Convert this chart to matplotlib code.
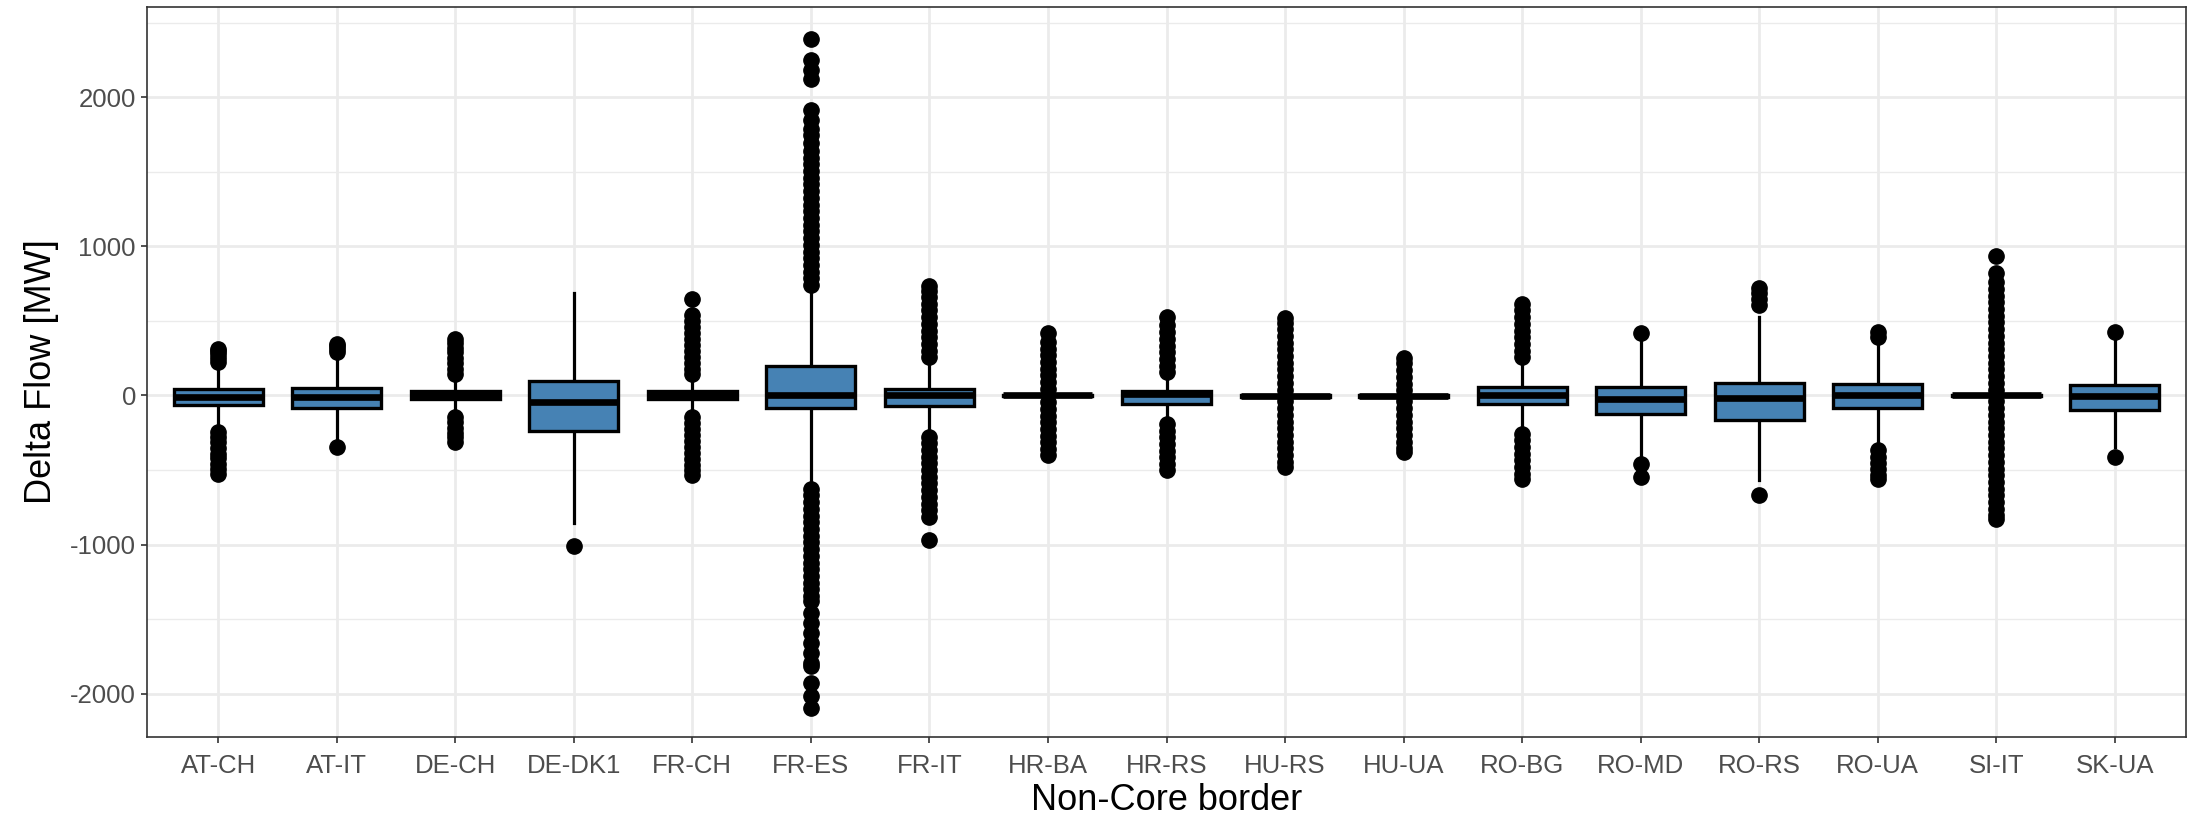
import matplotlib
matplotlib.use('Agg')
import matplotlib.pyplot as plt
from matplotlib.ticker import MultipleLocator

plt.rcParams['font.family'] = ['Liberation Sans', 'DejaVu Sans']

borders = ['AT-CH', 'AT-IT', 'DE-CH', 'DE-DK1', 'FR-CH', 'FR-ES', 'FR-IT', 'HR-BA', 'HR-RS',
           'HU-RS', 'HU-UA', 'RO-BG', 'RO-MD', 'RO-RS', 'RO-UA', 'SI-IT', 'SK-UA']
q1 = [-67, -85, -25, -241, -25, -85, -70, -6, -58, -12, -10, -55, -125, -167, -83, -4, -98]
med = [-7, -13, 2, -45, 0, 5, 5, 0, 8, -5, -3, 5, -22, -18, 0, 0, -2]
q3 = [45, 50, 28, 98, 30, 198, 45, 6, 28, 2, 5, 60, 56, 83, 80, 4, 71]
whislo = [-196, -290, -100, -853, -110, -567, -234, -15, -145, -20, -18, -223, -413, -569, -346, -8, -346]
whishi = [179, 257, 112, 689, 110, 692, 212, 15, 112, 10, 12, 223, 380, 525, 380, 8, 380]

# Ausreisser
outliers = [
    [225, 250, 275, 300, 315, -245, -280, -310, -350, -390, -420, -460, -490, -525],
    [290, 315, 335, 345, -346],
    [145, 180, 215, 250, 290, 320, 350, 380, -145, -180, -215, -250, -280, -310],
    [-1010],
    [141, 180, 220, 260, 300, 340, 380, 420, 460, 500, 537, 645,
     -145, -185, -225, -265, -305, -345, -385, -425, -465, -500, -530],
    [740, 785, 830, 875, 920, 965, 1010, 1055, 1100, 1145, 1190, 1235, 1280, 1325, 1370,
     1415, 1460, 1505, 1550, 1595, 1640, 1690, 1745, 1790, 1845, 1912, 2124, 2180, 2247, 2388,
     -625, -670, -715, -760, -805, -850, -895, -940, -985, -1030, -1075, -1120, -1165, -1210,
     -1255, -1300, -1345, -1380, -1460, -1527, -1594, -1660, -1727, -1794, -1817, -1928, -2018, -2096],
    [257, 300, 345, 390, 435, 480, 525, 570, 615, 660, 700, 737,
     -279, -320, -365, -410, -455, -500, -545, -590, -635, -680, -725, -770, -815, -971],
    [45, 90, 135, 180, 225, 270, 315, 360, 417, -45, -90, -135, -180, -225, -270, -315, -360, -402],
    [156, 200, 245, 290, 335, 380, 425, 470, 524, -190, -235, -280, -325, -370, -415, -460, -502],
    [40, 85, 130, 175, 220, 265, 310, 355, 400, 445, 484, 518,
     -40, -85, -130, -175, -220, -265, -310, -355, -400, -445, -480],
    [35, 80, 125, 170, 215, 254, -40, -85, -130, -175, -220, -265, -310, -350, -382],
    [257, 300, 345, 390, 435, 480, 525, 570, 614, -257, -300, -345, -390, -435, -480, -525, -558],
    [420, -461, -546],
    [610, 650, 690, 718, -665],
    [395, 425, -368, -410, -450, -495, -530, -558],
    [40, 85, 130, 175, 220, 265, 310, 355, 400, 445, 490, 535, 580, 625, 670, 715, 760, 821, 932,
     -40, -85, -130, -175, -220, -265, -310, -355, -400, -445, -490, -535, -580, -625, -670,
     -715, -760, -800, -830],
    [424, -413],
]

stats = [dict(label=b, q1=a, med=m, q3=c, whislo=lo, whishi=hi, fliers=f)
         for b, a, m, c, lo, hi, f in zip(borders, q1, med, q3, whislo, whishi, outliers)]

fig = plt.figure(figsize=(21.94, 8.26), dpi=100)
ax = fig.add_axes([147 / 2194, 1 - 737 / 826, (2186 - 147) / 2194, (737 - 7) / 826])

ax.bxp(stats, positions=range(1, len(borders) + 1), widths=0.75, patch_artist=True,
       showcaps=False,
       boxprops=dict(facecolor='steelblue', edgecolor='black', linewidth=2.4, zorder=3),
       medianprops=dict(color='black', linewidth=4.8, solid_capstyle='butt', zorder=4),
       whiskerprops=dict(color='black', linewidth=2.3, zorder=2),
       flierprops=dict(marker='o', markersize=11, markerfacecolor='black',
                       markeredgecolor='black', linestyle='none', zorder=1.5))

ax.set_xlim(0.4, len(borders) + 0.6)
ax.set_ylim(-2290, 2605)
ax.yaxis.set_major_locator(MultipleLocator(1000))
ax.yaxis.set_minor_locator(MultipleLocator(500))
ax.set_yticks([-2000, -1000, 0, 1000, 2000])
ax.set_yticklabels(['-2000', '-1000', '0', '1000', '2000'])

ax.grid(which='major', color='#EBEBEB', linewidth=2.0, zorder=0)
ax.grid(which='minor', axis='y', color='#EBEBEB', linewidth=1.0, zorder=0)
ax.set_axisbelow(True)

for s in ax.spines.values():
    s.set_color('#333333')
    s.set_linewidth(1.2)

ax.tick_params(axis='both', which='major', length=4, width=1.2, color='#333333',
               labelcolor='#4D4D4D', labelsize=18.5)
ax.tick_params(axis='x', pad=8)
ax.tick_params(axis='y', pad=4)
ax.tick_params(which='minor', length=0)

ax.set_xlabel('Non-Core border', fontsize=26, labelpad=4)
ax.set_ylabel('Delta Flow [MW]', fontsize=26, labelpad=8)

fig.savefig('out.png', dpi=100)
